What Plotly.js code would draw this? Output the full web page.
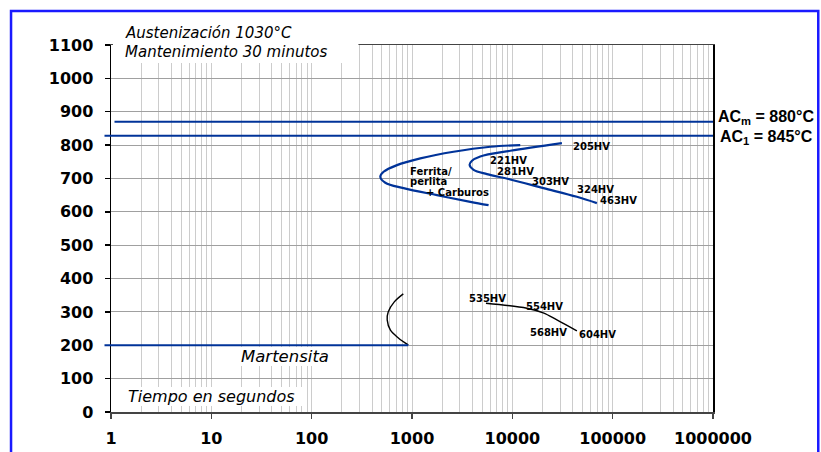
<!DOCTYPE html>
<html>
<head>
<meta charset="utf-8">
<script src="https://cdn.plot.ly/plotly-3.0.1.min.js"></script>
<style>
html,body{margin:0;padding:0;background:#fff;}
#chart{width:821px;height:452px;}
</style>
</head>
<body>
<div id="chart"></div>
<script>
// ---- data ----
// Ferrite/pearlite + carbides start curve (outer)
const ferriteStartTime = [11990, 6030, 2595, 1210, 709, 521, 483, 542, 824, 1775, 3810, 5796];
const ferriteStartTemp = [800, 795, 780, 760, 740, 720, 705, 687, 671, 650, 630, 620];
// Ferrite/pearlite + carbides finish curve (inner)
const ferriteEndTime = [31200, 9530, 4790, 3960, 3750, 4110, 5590, 9530, 20460, 43990, 69600];
const ferriteEndTemp = [806, 783, 766, 753, 741, 726, 713, 697, 671, 645, 626];
// Curve near martensite start
const bainiteNoseTime = [819, 666, 579, 566, 608, 731, 918];
const bainiteNoseTemp = [354, 330, 300, 276, 246, 222, 201];
// Lower hardness line
const lowerLineTime = [5458, 13970, 20300, 27800, 44000];
const lowerLineTemp = [326, 311, 297, 276, 243];
// Horizontal reference lines
const acmTemp = 870;
const ac1Temp = 828;
const msTemp = 200;
const msEndTime = 918;
// Axis ticks
const xTickVals = [1, 10, 100, 1000, 10000, 100000, 1000000];
const xTickText = ["1", "10", "100", "1000", "10000", "100000", "1000000"];
// Hardness labels
const hvLabels = ["205HV", "221HV", "281HV", "303HV", "324HV", "463HV", "535HV", "554HV", "568HV", "604HV"];

// ---- layout helpers (pixel -> paper) ----
const L = 110.5, R = 712.7, T = 45, B = 412;
const px = p => (p - L) / (R - L);
const py = p => (B - p) / (B - T);

const blue = '#003399';
const fontFam = 'DejaVu Sans, Arial, sans-serif';
const arialFam = 'Liberation Sans, Arial, sans-serif';

const traces = [
  {x: ferriteStartTime, y: ferriteStartTemp, mode: 'lines', line: {color: blue, width: 2.2, shape: 'spline', smoothing: 1}, hoverinfo: 'skip'},
  {x: ferriteEndTime, y: ferriteEndTemp, mode: 'lines', line: {color: blue, width: 2.2, shape: 'spline', smoothing: 1}, hoverinfo: 'skip'},
  {x: bainiteNoseTime, y: bainiteNoseTemp, mode: 'lines', line: {color: '#000', width: 1.4, shape: 'spline', smoothing: 1}, hoverinfo: 'skip'},
  {x: lowerLineTime, y: lowerLineTemp, mode: 'lines', line: {color: '#000', width: 1.4, shape: 'spline', smoothing: 1}, hoverinfo: 'skip'}
];

// HV label pixel positions (centre)
const hvPos = [[591,146],[508,160],[515,171],[550,182],[595,189],[618,201],[487,298],[544,306],[548,332],[597,334]];

const annotations = [];
hvLabels.forEach((t, i) => {
  annotations.push({text: t, xref: 'paper', yref: 'paper', x: px(hvPos[i][0]), y: py(hvPos[i][1]),
    showarrow: false, xanchor: 'center', yanchor: 'middle',
    font: {family: fontFam, size: 10, color: '#000', weight: 'bold'}});
});
const small = {family: fontFam, size: 10, color: '#000', weight: 'bold'};
annotations.push({text: 'Ferrita/', xref: 'paper', yref: 'paper', x: px(408), y: py(171), xanchor: 'left', yanchor: 'middle', showarrow: false, font: small});
annotations.push({text: 'perlita', xref: 'paper', yref: 'paper', x: px(408), y: py(181), xanchor: 'left', yanchor: 'middle', showarrow: false, font: small});
annotations.push({text: '+ Carburos', xref: 'paper', yref: 'paper', x: px(424), y: py(192), xanchor: 'left', yanchor: 'middle', showarrow: false, font: small});

const ital = {family: fontFam, size: 16, color: '#000', style: 'italic'};
const ital15 = {family: fontFam, size: 15, color: '#000', style: 'italic'};
annotations.push({text: 'Austenización 1030°C', xref: 'paper', yref: 'paper', x: px(123), y: py(33), xanchor: 'left', yanchor: 'middle', showarrow: false, font: ital15});
annotations.push({text: 'Mantenimiento 30 minutos', xref: 'paper', yref: 'paper', x: px(123), y: py(52), xanchor: 'left', yanchor: 'middle', showarrow: false, font: ital15});
annotations.push({text: 'Martensita', xref: 'paper', yref: 'paper', x: px(285), y: py(356), xanchor: 'center', yanchor: 'middle', showarrow: false,
  font: {family: fontFam, size: 16.5, color: '#000', style: 'italic'}});
annotations.push({text: 'Tiempo en segundos', xref: 'paper', yref: 'paper', x: px(126), y: py(396), xanchor: 'left', yanchor: 'middle', showarrow: false, font: ital});
annotations.push({text: 'AC<sub>m</sub> = 880°C', xref: 'paper', yref: 'paper', x: px(716), y: py(117), xanchor: 'left', yanchor: 'middle',
  showarrow: false, font: {family: arialFam, size: 16, color: '#000', weight: 'bold'}});
annotations.push({text: 'AC<sub>1</sub> = 845°C', xref: 'paper', yref: 'paper', x: px(718), y: py(137), xanchor: 'left', yanchor: 'middle',
  showarrow: false, font: {family: arialFam, size: 16, color: '#000', weight: 'bold'}});

const whiteBox = (x0, x1, y0, y1) => ({type: 'rect', xref: 'paper', yref: 'paper', x0: px(x0), x1: px(x1), y0: py(y1), y1: py(y0),
  fillcolor: '#fff', line: {width: 0}, layer: 'above'});

const shapes = [
  whiteBox(112.5, 358, 24, 63),
  whiteBox(236, 335, 347, 366),
  whiteBox(124, 306, 387, 406),
  {type: 'line', xref: 'paper', yref: 'y', x0: px(114), x1: 1, y0: acmTemp, y1: acmTemp, line: {color: blue, width: 2}, layer: 'above'},
  {type: 'line', xref: 'paper', yref: 'y', x0: px(104), x1: 1, y0: ac1Temp, y1: ac1Temp, line: {color: blue, width: 2}, layer: 'above'},
  {type: 'line', xref: 'paper', yref: 'y', x0: px(104), x1: (Math.log10(msEndTime)) / 6, y0: msTemp, y1: msTemp, line: {color: blue, width: 2.2}, layer: 'above'},
  {type: 'rect', xref: 'paper', yref: 'paper', x0: px(10.5), x1: px(818), y0: py(11), y1: py(470), line: {color: '#1a1aff', width: 2.5}, layer: 'above'}
];

const layout = {
  width: 821, height: 452,
  margin: {l: L, r: 821 - R, t: T, b: 452 - B, pad: 0},
  paper_bgcolor: '#fff', plot_bgcolor: '#fff',
  showlegend: false,
  xaxis: {
    type: 'log', range: [0, 6], tickvals: xTickVals, ticktext: xTickText,
    showgrid: true, gridcolor: '#cccccc', gridwidth: 1,
    minor: {dtick: 'D1', showgrid: true, gridcolor: '#cccccc', gridwidth: 1, ticks: ''},
    showline: true, linecolor: '#444', linewidth: 1.5, mirror: true,
    ticks: 'outside', ticklen: 5, tickcolor: '#444', tickwidth: 1.5,
    ticklabelstandoff: 6,
    tickfont: {family: fontFam, size: 16, color: '#000', weight: 'bold'},
    zeroline: false, fixedrange: true
  },
  yaxis: {
    range: [0, 1100], dtick: 100, tick0: 0,
    showgrid: true, gridcolor: '#a0a0a0', gridwidth: 1,
    showline: true, linecolor: '#000', linewidth: 1.5, mirror: true,
    ticks: 'outside', ticklen: 5, tickcolor: '#000', tickwidth: 1.5,
    ticklabelstandoff: 8,
    tickfont: {family: fontFam, size: 16, color: '#000', weight: 'bold'},
    zeroline: false, fixedrange: true
  },
  annotations: annotations,
  shapes: shapes
};

Plotly.newPlot('chart', traces, layout, {displayModeBar: false, staticPlot: true});
</script>
</body>
</html>
